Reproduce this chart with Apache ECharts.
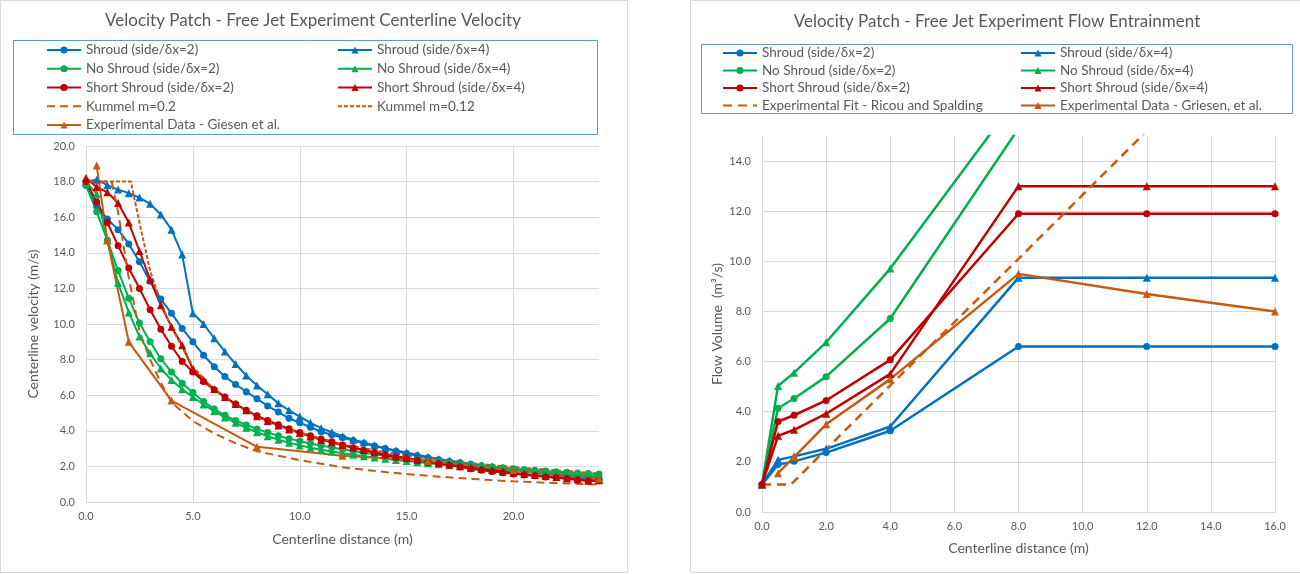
<!DOCTYPE html>
<html>
<head>
<meta charset="utf-8">
<title>Velocity Patch - Free Jet Experiment</title>
<script src="https://cdn.jsdelivr.net/npm/echarts@6/dist/echarts.min.js"></script>
<style>
html, body { margin: 0; padding: 0; background: #fff; }
#chart { width: 1300px; height: 574px; }
</style>
</head>
<body>
<div id="chart"></div>
<script>
// ---------- left panel: centerline velocity (m/s) ----------
const distance = [0, 0.5, 1, 1.5, 2, 2.5, 3, 3.5, 4, 4.5, 5, 5.5, 6, 6.5, 7, 7.5, 8, 8.5, 9, 9.5,
  10, 10.5, 11, 11.5, 12, 12.5, 13, 13.5, 14, 14.5, 15, 15.5, 16, 16.5, 17, 17.5, 18, 18.5, 19, 19.5,
  20, 20.5, 21, 21.5, 22, 22.5, 23, 23.5, 24]
const shroud2Vel = [17.8, 16.6, 15.9, 15.3, 14.5, 13.5, 12.4, 11.4, 10.6, 9.75, 9.0, 8.25, 7.6, 7.05, 6.6, 6.2, 5.8, 5.4, 5.05, 4.7,
  4.45, 4.2, 3.95, 3.78, 3.62, 3.46, 3.3, 3.14, 3.0, 2.85, 2.72, 2.6, 2.48, 2.38, 2.28, 2.2, 2.12, 2.03, 1.96, 1.9,
  1.83, 1.76, 1.7, 1.63, 1.57, 1.52, 1.46, 1.41, 1.37]
const shroud4Vel = [18.0, 18.1, 17.8, 17.55, 17.35, 17.1, 16.75, 16.15, 15.3, 13.9, 10.6, 10.0, 9.2, 8.45, 7.75, 7.1, 6.55, 6.05, 5.55, 5.15,
  4.8, 4.45, 4.15, 3.92, 3.7, 3.5, 3.35, 3.17, 3.02, 2.89, 2.78, 2.65, 2.53, 2.42, 2.33, 2.23, 2.13, 2.05, 1.98, 1.9,
  1.82, 1.76, 1.67, 1.59, 1.52, 1.45, 1.38, 1.32, 1.3]
const noShroud2Vel = [17.8, 16.3, 14.7, 13.0, 11.45, 10.05, 9.0, 8.05, 7.3, 6.67, 6.15, 5.65, 5.22, 4.87, 4.58, 4.33, 4.1, 3.9, 3.72, 3.56,
  3.42, 3.29, 3.17, 3.06, 2.96, 2.86, 2.77, 2.68, 2.6, 2.52, 2.45, 2.38, 2.31, 2.25, 2.19, 2.13, 2.07, 2.02, 1.97, 1.92,
  1.87, 1.82, 1.78, 1.74, 1.7, 1.67, 1.63, 1.6, 1.58]
const noShroud4Vel = [18.0, 17.3, 14.7, 12.3, 10.65, 9.3, 8.35, 7.5, 6.85, 6.33, 5.9, 5.48, 5.1, 4.75, 4.45, 4.17, 3.92, 3.7, 3.5, 3.33,
  3.18, 3.05, 2.94, 2.84, 2.74, 2.65, 2.57, 2.5, 2.43, 2.36, 2.3, 2.24, 2.18, 2.12, 2.07, 2.02, 1.97, 1.92, 1.87, 1.82,
  1.78, 1.73, 1.69, 1.65, 1.61, 1.57, 1.53, 1.49, 1.47]
const shortShroud2Vel = [18.0, 16.85, 15.7, 14.4, 13.15, 12.0, 10.8, 9.7, 8.75, 7.9, 7.3, 6.77, 6.3, 5.9, 5.5, 5.15, 4.85, 4.58, 4.34, 4.12,
  3.9, 3.72, 3.54, 3.38, 3.2, 3.05, 2.9, 2.77, 2.63, 2.52, 2.43, 2.33, 2.24, 2.15, 2.06, 1.96, 1.87, 1.79, 1.72, 1.65,
  1.58, 1.52, 1.47, 1.41, 1.36, 1.3, 1.24, 1.2, 1.2]
const shortShroud4Vel = [18.2, 17.7, 17.4, 16.8, 15.7, 14.1, 12.5, 11.05, 9.85, 8.8, 7.45, 6.85, 6.35, 5.9, 5.5, 5.15, 4.82, 4.55, 4.3, 4.08,
  3.87, 3.68, 3.5, 3.35, 3.2, 3.06, 2.92, 2.8, 2.68, 2.57, 2.47, 2.37, 2.28, 2.19, 2.1, 2.01, 1.93, 1.85, 1.78, 1.71,
  1.64, 1.58, 1.52, 1.46, 1.4, 1.34, 1.28, 1.2, 1.22]
const kummel02X = [0, 1.2, 1.5, 2, 2.5, 3, 3.5, 4, 5, 6, 7, 8, 9, 10, 12, 14, 16, 18, 20, 22, 24]
const kummel02Vel = [18, 18, 16.3, 12.6, 9.6, 8.0, 6.7, 5.6, 4.55, 3.85, 3.3, 2.85, 2.6, 2.35, 1.95, 1.68, 1.47, 1.3, 1.16, 1.06, 0.98]
const kummel012X = [0, 2.1, 2.5, 3, 3.5, 4, 4.5, 5, 6, 7, 8, 9, 10, 12, 14, 16, 18, 20, 22, 24]
const kummel012Vel = [18, 18, 15.7, 13.0, 11.2, 9.8, 8.7, 7.6, 6.3, 5.45, 4.8, 4.3, 3.88, 3.25, 2.8, 2.45, 2.18, 1.96, 1.78, 1.6]
const giesenVelX = [0.5, 1, 2, 4, 8, 12, 16, 20, 24]
const giesenVel = [18.9, 14.7, 9.0, 5.7, 3.1, 2.6, 2.3, 1.8, 1.3]

// ---------- right panel: flow volume (m3/s) ----------
const entrainX = [0, 0.5, 1, 2, 4, 8, 12, 16]
const shroud2Flow = [1.1, 1.89, 2.02, 2.37, 3.24, 6.6, 6.6, 6.6]
const shroud4Flow = [1.1, 2.08, 2.22, 2.52, 3.41, 9.35, 9.35, 9.35]
const noShroud2Flow = [1.1, 4.14, 4.53, 5.4, 7.72, 15.3, 15.3, 15.3]
const noShroud4Flow = [1.1, 5.03, 5.56, 6.77, 9.71, 16.6, 16.6, 16.6]
const shortShroud2Flow = [1.1, 3.61, 3.86, 4.45, 6.07, 11.9, 11.9, 11.9]
const shortShroud4Flow = [1.1, 3.04, 3.28, 3.92, 5.51, 13.0, 13.0, 13.0]
const ricouX = [0, 0.5, 0.9, 1, 2, 4, 8, 12]
const ricouFlow = [1.1, 1.1, 1.1, 1.22, 2.5, 5.05, 10.1, 15.2]
const griesenX = [0.5, 1, 2, 4, 8, 12, 16]
const griesenFlow = [1.55, 2.19, 3.5, 5.3, 9.5, 8.7, 8.0]

// axis ranges [min, max, interval]
const velXRange = [0, 24, 5]
const velYRange = [0, 20, 2]
const flowXRange = [0, 16, 2]
const flowYRange = [0, 15, 2]

const FONT = 'Lato, "Noto Sans", sans-serif'
const TXT = '#595959'
const GRID = '#D9D9D9'
const BLUE = '#0070C0', GREEN = '#00B050', RED = '#C00000', ORANGE = '#C55A11'

const N_S2 = 'Shroud (side/δx=2)', N_S4 = 'Shroud (side/δx=4)'
const N_N2 = 'No Shroud (side/δx=2)', N_N4 = 'No Shroud (side/δx=4)'
const N_T2 = 'Short Shroud (side/δx=2)', N_T4 = 'Short Shroud (side/δx=4)'

const pairs = (xs, ys) => xs.map((x, i) => [x, ys[i]])

// one plotted line
const line = (name, xs, ys, color, symbol, grid, width, dash) => ({
    name: name,
    type: 'line',
    xAxisIndex: grid,
    yAxisIndex: grid,
    data: pairs(xs, ys),
    symbol: symbol || 'none',
    symbolSize: symbol === 'triangle' ? 8 : 7,
    lineStyle: { color: color, width: width, type: dash || 'solid' },
    itemStyle: { color: color },
    emphasis: { disabled: true },
})

const xAx = (grid, range, name, gap) => ({
    gridIndex: grid,
    type: 'value',
    min: range[0], max: range[1], interval: range[2],
    name: name,
    nameLocation: 'middle',
    nameGap: gap,
    nameTextStyle: { fontFamily: FONT, fontSize: 14, color: TXT },
    axisLine: { lineStyle: { color: GRID } },
    axisTick: { show: false },
    axisLabel: { fontFamily: FONT, fontSize: 11, color: TXT, margin: 9, showMaxLabel: range[1] % range[2] === 0,
        formatter: v => v.toFixed(1) },
    splitLine: { lineStyle: { color: GRID }, showMinLine: false, showMaxLine: range[1] % range[2] === 0 },
})
const yAx = (grid, range, name, gap) => ({
    gridIndex: grid,
    type: 'value',
    min: range[0], max: range[1], interval: range[2],
    name: name,
    nameLocation: 'middle',
    nameGap: gap,
    nameTextStyle: { fontFamily: FONT, fontSize: 14, color: TXT },
    axisLine: { show: true, lineStyle: { color: GRID } },
    axisTick: { show: false },
    axisLabel: { fontFamily: FONT, fontSize: 11, color: TXT, margin: 11, showMaxLabel: range[1] % range[2] === 0,
        formatter: v => v.toFixed(1) },
    splitLine: { lineStyle: { color: GRID }, showMinLine: false, showMaxLine: range[1] % range[2] === 0 },
})

// dashed fits have no marker in the legend either
const DASHED = ['Kummel m=0.2', 'Kummel m=0.12', 'Experimental Fit - Ricou and Spalding']
const legendCol = (left, top, gap, names) => ({
    orient: 'vertical',
    left: left,
    top: top,
    padding: 0,
    itemGap: gap,
    itemWidth: 34,
    itemHeight: 9,
    selectedMode: false,
    textStyle: { fontFamily: FONT, fontSize: 13.5, color: TXT, lineHeight: 14 },
    data: names.map(n => DASHED.includes(n) ? { name: n, itemStyle: { opacity: 0 } } : n),
})

const chart = echarts.init(document.getElementById('chart'))

const option = {
    animation: false,
    backgroundColor: '#fff',
    title: [
        { text: 'Velocity Patch - Free Jet Experiment Centerline Velocity', left: 313, top: 12, textAlign: 'center', padding: 0,
          textStyle: { fontFamily: FONT, fontSize: 17, fontWeight: 'normal', color: TXT } },
        { text: 'Velocity Patch - Free Jet Experiment Flow Entrainment', left: 997, top: 13, textAlign: 'center', padding: 0,
          textStyle: { fontFamily: FONT, fontSize: 17, fontWeight: 'normal', color: TXT } },
    ],
    legend: [
        legendCol(46, 43, 4.75, [N_S2, N_N2, N_T2, 'Kummel m=0.2', 'Experimental Data - Giesen et al.']),
        legendCol(337, 43, 4.75, [N_S4, N_N4, N_T4, 'Kummel m=0.12']),
        legendCol(722, 46, 3.5, [N_S2, N_N2, N_T2, 'Experimental Fit - Ricou and Spalding']),
        legendCol(1020, 46, 3.5, [N_S4, N_N4, N_T4, 'Experimental Data - Griesen, et al.']),
    ],
    // chart frames and legend boxes
    graphic: [
        { type: 'rect', silent: true, z: -1, shape: { x: 0.5, y: 0.5, width: 627, height: 572 }, style: { fill: 'none', stroke: GRID } },
        { type: 'rect', silent: true, z: -1, shape: { x: 690.5, y: 0.5, width: 620, height: 572 }, style: { fill: 'none', stroke: GRID } },
        { type: 'rect', silent: true, shape: { x: 13.5, y: 40.5, width: 584, height: 94 }, style: { fill: 'none', stroke: '#5B9BD5' } },
        { type: 'rect', silent: true, shape: { x: 701.5, y: 44.5, width: 591, height: 69 }, style: { fill: 'none', stroke: '#5B9BD5' } },
    ],
    grid: [
        { left: 86, top: 146, width: 513, height: 356 },
        { left: 762, top: 136, width: 513, height: 376 },
    ],
    xAxis: [
        xAx(0, velXRange, 'Centerline distance (m)', 30),
        xAx(1, flowXRange, 'Centerline distance (m)', 29),
    ],
    yAxis: [
        yAx(0, velYRange, 'Centerline velocity (m/s)', 46),
        yAx(1, flowYRange, 'Flow Volume  (m³/s)', 38),
    ],
    series: [
        line(N_S2, distance, shroud2Vel, BLUE, 'circle', 0, 2),
        line(N_S4, distance, shroud4Vel, BLUE, 'triangle', 0, 2),
        line(N_N2, distance, noShroud2Vel, GREEN, 'circle', 0, 2),
        line(N_N4, distance, noShroud4Vel, GREEN, 'triangle', 0, 2),
        line(N_T2, distance, shortShroud2Vel, RED, 'circle', 0, 2),
        line(N_T4, distance, shortShroud4Vel, RED, 'triangle', 0, 2),
        line('Kummel m=0.2', kummel02X, kummel02Vel, ORANGE, null, 0, 2, [8, 5]),
        line('Kummel m=0.12', kummel012X, kummel012Vel, ORANGE, null, 0, 2, [4, 2]),
        line('Experimental Data - Giesen et al.', giesenVelX, giesenVel, ORANGE, 'triangle', 0, 2),

        line(N_S2, entrainX, shroud2Flow, BLUE, 'circle', 1, 2.5),
        line(N_S4, entrainX, shroud4Flow, BLUE, 'triangle', 1, 2.5),
        line(N_N2, entrainX, noShroud2Flow, GREEN, 'circle', 1, 2.5),
        line(N_N4, entrainX, noShroud4Flow, GREEN, 'triangle', 1, 2.5),
        line(N_T2, entrainX, shortShroud2Flow, RED, 'circle', 1, 2.5),
        line(N_T4, entrainX, shortShroud4Flow, RED, 'triangle', 1, 2.5),
        line('Experimental Fit - Ricou and Spalding', ricouX, ricouFlow, ORANGE, null, 1, 2.5, [9, 6]),
        line('Experimental Data - Griesen, et al.', griesenX, griesenFlow, ORANGE, 'triangle', 1, 2.5),
    ],
}

chart.setOption(option)
window.addEventListener('resize', () => chart.resize())
</script>
</body>
</html>
